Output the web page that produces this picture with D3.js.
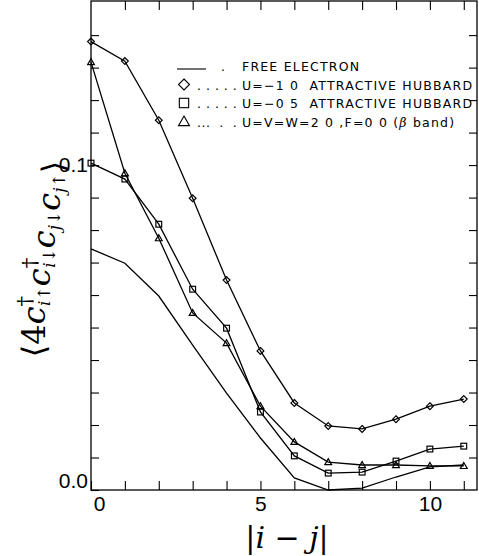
<!DOCTYPE html>
<html lang="en">
<head>
  <meta charset="UTF-8">
  <title>pair correlation</title>
  <script src="https://d3js.org/d3.v7.min.js"></script>
  <style>
    body { margin: 0; background: #fff; }
    .leg text { white-space: pre; }
  </style>
</head>
<body>
  <div id="container"></div>
  <script>
    const dist = [0, 1, 2, 3, 4, 5, 6, 7, 8, 9, 10, 11]
    const freeElectron = [0.0742, 0.0698, 0.0597, 0.0446, 0.0298, 0.0160, 0.0037, 0.0000, 0.0006, 0.0040, 0.0071, 0.0077]
    const hubbard10 = [0.1380, 0.1320, 0.1138, 0.0898, 0.0646, 0.0428, 0.0268, 0.0197, 0.0188, 0.0218, 0.0258, 0.0280]
    const hubbard05 = [0.1006, 0.0957, 0.0818, 0.0618, 0.0498, 0.0240, 0.0105, 0.0052, 0.0055, 0.0089, 0.0126, 0.0135]
    const betaBand = [0.1317, 0.0975, 0.0775, 0.0545, 0.0452, 0.0258, 0.0148, 0.0086, 0.0077, 0.0077, 0.0074, 0.0074]

    const series = [
      {name: 'free', values: freeElectron, marker: null},
      {name: 'u10', values: hubbard10, marker: 'diamond'},
      {name: 'u05', values: hubbard05, marker: 'square'},
      {name: 'beta', values: betaBand, marker: 'triangle'}
    ]

    const legendItems = [
      {marker: 'line', dots: '.', label: 'FREE ELECTRON'},
      {marker: 'diamond', dots: '. . . . .', label: 'U=\u22121 0  ATTRACTIVE HUBBARD'},
      {marker: 'square', dots: '. . . . .', label: 'U=\u22120 5  ATTRACTIVE HUBBARD'},
      {marker: 'triangle', dots: '...  .  .', label: 'U=V=W=2 0 ,F=0 0 (', beta: true}
    ]

    const W = 479, H = 556
    const L = 91, R = 477, T = 1, B = 490

    const x = d3.scaleLinear().domain([0, 11.39]).range([L, R])
    const y = d3.scaleLinear().domain([0, 0.1505]).range([B, T])

    const svg = d3.select('#container').append('svg')
      .attr('width', W)
      .attr('height', H)
      .style('font-family', '"Liberation Sans", Arial, sans-serif')

    // frame
    svg.append('rect')
      .attr('x', L).attr('y', T)
      .attr('width', R - L).attr('height', B - T)
      .attr('fill', 'none').attr('stroke', '#000').attr('stroke-width', 1.3)

    const xTicks = d3.range(0, 12)
    const yTicks = d3.range(0, 15).map(d => +(d * 0.01).toFixed(2))

    const axBottom = svg.append('g').attr('transform', `translate(0,${B})`)
      .call(d3.axisBottom(x).tickValues(xTicks).tickSize(-9).tickPadding(6)
        .tickFormat(d => (d % 5 === 0 ? d : '')))
    const axTop = svg.append('g').attr('transform', `translate(0,${T})`)
      .call(d3.axisTop(x).tickValues(xTicks.slice(1)).tickSize(-9).tickFormat(''))
    const axLeft = svg.append('g').attr('transform', `translate(${L},0)`)
      .call(d3.axisLeft(y).tickValues(yTicks).tickSize(-8).tickPadding(3)
        .tickFormat(d => (d === 0 || d === 0.1 ? d3.format('.1f')(d) : '')))
    const axRight = svg.append('g').attr('transform', `translate(${R},0)`)
      .call(d3.axisRight(y).tickValues(yTicks.slice(1)).tickSize(-8).tickFormat(''))

    ;[axBottom, axTop, axLeft, axRight].forEach(g => {
      g.select('.domain').remove()
      g.selectAll('line').attr('stroke', '#000').attr('stroke-width', 1.1)
      g.selectAll('text').attr('font-size', 21).attr('fill', '#000')
        .attr('font-family', '"Liberation Sans", Arial, sans-serif')
    })
    axLeft.selectAll('text').filter(d => d === 0).attr('dy', '-0.1em')
    axBottom.selectAll('text').filter(d => d === 0).attr('dx', 8)

    // curves
    const line = d3.line()
      .x((d, i) => x(dist[i]))
      .y(d => y(d))

    const plot = svg.append('g')
    series.forEach(s => {
      plot.append('path')
        .datum(s.values)
        .attr('d', line)
        .attr('fill', 'none')
        .attr('stroke', '#000')
        .attr('stroke-width', 1.3)
    })

    function marker (g, type, cx, cy, size) {
      const s = size
      if (type === 'diamond') {
        g.append('path')
          .attr('d', `M${cx},${cy - s}L${cx + s},${cy}L${cx},${cy + s}L${cx - s},${cy}Z`)
      } else if (type === 'square') {
        g.append('rect')
          .attr('x', cx - s * 0.85).attr('y', cy - s * 0.85)
          .attr('width', s * 1.7).attr('height', s * 1.7)
      } else if (type === 'triangle') {
        g.append('path')
          .attr('d', `M${cx},${cy - s}L${cx + s},${cy + s * 0.75}L${cx - s},${cy + s * 0.75}Z`)
      }
    }

    series.forEach(s => {
      if (!s.marker) return
      const g = plot.append('g')
        .attr('fill', 'none').attr('stroke', '#000').attr('stroke-width', 1.2)
      s.values.forEach((v, i) => marker(g, s.marker, x(dist[i]), y(v), 3.4))
    })

    // legend
    const legend = svg.append('g')
      .attr('class', 'leg')
      .attr('font-size', 12.5)
      .attr('font-family', '"DejaVu Sans", sans-serif')
    legendItems.forEach((d, i) => {
      const cy = 66 + i * 18.5
      const g = legend.append('g')
        .attr('fill', 'none').attr('stroke', '#000').attr('stroke-width', 1.1)
      if (d.marker === 'line') {
        g.append('line').attr('x1', 177).attr('x2', 206).attr('y1', cy + 3).attr('y2', cy + 3)
      } else {
        marker(g, d.marker, 184, cy, 5.5)
      }
      legend.append('text')
        .attr('x', d.marker === 'line' ? 221 : 197).attr('y', cy + 5)
        .attr('letter-spacing', 0.5)
        .text(d.dots)
      const t = legend.append('text')
        .attr('x', 242).attr('y', cy + 5)
        .attr('letter-spacing', 1.2)
        .text(d.label)
      if (d.beta) {
        t.append('tspan').attr('font-style', 'italic')
          .attr('font-family', '"DejaVu Serif", serif').text('\u03b2')
        t.append('tspan').text(' band)')
      }
    })

    // axis titles
    svg.append('text')
      .attr('x', 287).attr('y', 548)
      .attr('text-anchor', 'middle')
      .attr('font-family', '"DejaVu Serif", "Liberation Serif", serif')
      .attr('font-size', 30)
      .html('<tspan font-style="normal">|</tspan><tspan font-style="italic">i</tspan> \u2212 <tspan font-style="italic">j</tspan><tspan font-style="normal">|</tspan>')

    const yl = svg.append('text')
      .attr('transform', 'translate(45,259) rotate(-90)')
      .attr('text-anchor', 'middle')
      .attr('font-family', '"DejaVu Serif", "Liberation Serif", serif')
      .attr('font-size', 32)
    yl.append('tspan').text('\u27e84')
    const ops = [['\u2020', 'i\u2191'], ['\u2020', 'i\u2193'], ['', 'j\u2193'], ['', 'j\u2191']]
    ops.forEach(([dag, sub]) => {
      yl.append('tspan').attr('font-style', 'italic').text('c')
      if (dag) {
        yl.append('tspan').attr('dy', -13).attr('font-size', 21).text(dag)
        yl.append('tspan').attr('dx', -10).attr('dy', 18).attr('font-size', 17)
          .attr('font-style', 'italic').text(sub)
        yl.append('tspan').attr('dy', -5).text('')
      } else {
        yl.append('tspan').attr('dy', 5).attr('font-size', 17)
          .attr('font-style', 'italic').text(sub)
        yl.append('tspan').attr('dy', -5).text('')
      }
    })
    yl.append('tspan').text('\u27e9')
  </script>
</body>
</html>
